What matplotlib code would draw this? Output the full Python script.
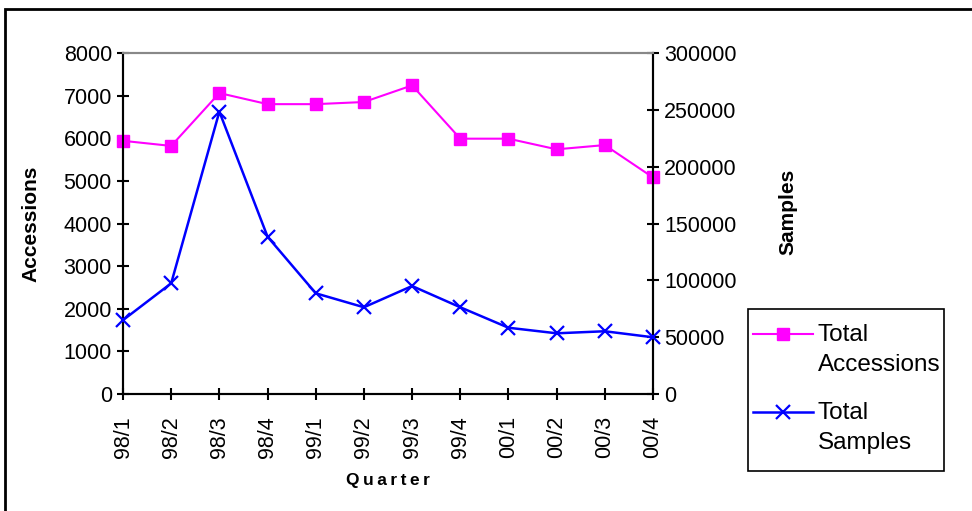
import matplotlib.pyplot as plt
from matplotlib.patches import Rectangle
from matplotlib.lines import Line2D

plt.rcParams['font.family'] = ['Liberation Sans', 'DejaVu Sans']

# quarterly totals
quarters = ["98/1", "98/2", "98/3", "98/4", "99/1", "99/2",
            "99/3", "99/4", "00/1", "00/2", "00/3", "00/4"]
accessions = [5940, 5820, 7060, 6800, 6800, 6850,
              7240, 5990, 5990, 5740, 5840, 5080]
samples = [65000, 97400, 248400, 138400, 88600, 76300,
           95000, 76300, 58300, 53400, 55200, 49900]

W, H = 972, 511
figure = plt.figure(figsize=(W / 100, H / 100), dpi=100)
axes = figure.add_axes([123 / W, 1 - 394 / H, 530 / W, 341 / H])
axes2 = axes.twinx()

x = list(range(len(quarters)))
axes.plot(x, accessions, color='#FF00FF', lw=1.5, marker='s', ms=9,
          clip_on=False, zorder=3)
axes2.plot(x, samples, color='#0000FF', lw=1.8, marker='x', ms=10, mew=1.6,
           clip_on=False, zorder=3)

axes.set_xlim(0, len(quarters) - 1)
axes.set_ylim(0, 8000)
axes2.set_ylim(0, 300000)
axes.set_yticks(range(0, 8001, 1000))
axes2.set_yticks(range(0, 300001, 50000))
axes.set_xticks(x)
axes.set_xticklabels(quarters, rotation=90)

for ax in (axes, axes2):
    ax.tick_params(direction='inout', length=8, width=1.5, labelsize=15.5,
                   color='black', pad=4)
    for side in ('left', 'right', 'bottom'):
        ax.spines[side].set_linewidth(1.5)
    ax.spines['top'].set_color('#888888')
    ax.spines['top'].set_linewidth(1.5)
axes.tick_params(axis='x', pad=12)

axes.set_ylabel("Accessions", fontsize=15, fontweight='bold')
axes2.set_ylabel("Samples", fontsize=15, fontweight='bold')
axes.yaxis.set_label_coords(-83 / 530, 0.5)
axes2.yaxis.set_label_coords(1 + 125 / 530, (394 - 212) / 341)
axes.set_xlabel("Q\u2009u\u2009a\u2009r\u2009t\u2009e\u2009r", fontsize=12.5,
                fontweight='bold')
axes.xaxis.set_label_coords(0.5, -(473 - 394) / 341)

handles = [
    Line2D([], [], color='#FF00FF', lw=1.5, marker='s', ms=9),
    Line2D([], [], color='#0000FF', lw=1.8, marker='x', ms=10, mew=1.6),
]
legend = figure.legend(handles, ["Total\nAccessions", "Total\nSamples"],
                       loc='upper left', bbox_to_anchor=(753 / W, 1 - 324 / H),
                       fontsize=17.5, frameon=False, handlelength=2.45,
                       handletextpad=0.22, labelspacing=1.05, borderpad=0,
                       borderaxespad=0)
for text in legend.get_texts():
    text.set_linespacing(1.47)
# keep each legend symbol level with the first line of its label
for handle in legend.legend_handles:
    handle.set_ydata([y + 11.5 for y in handle.get_ydata()])

# legend box
figure.add_artist(Rectangle((748 / W, 1 - 471 / H), 196 / W, 162 / H,
                            transform=figure.transFigure, fill=False,
                            lw=1.2, edgecolor='black'))

# chart border
figure.add_artist(Rectangle((5 / W, -0.2), 1.2, 1.2 - 9 / H,
                            transform=figure.transFigure, fill=False,
                            lw=2, edgecolor='black', clip_on=False))

figure.savefig("out.png", dpi=100)
